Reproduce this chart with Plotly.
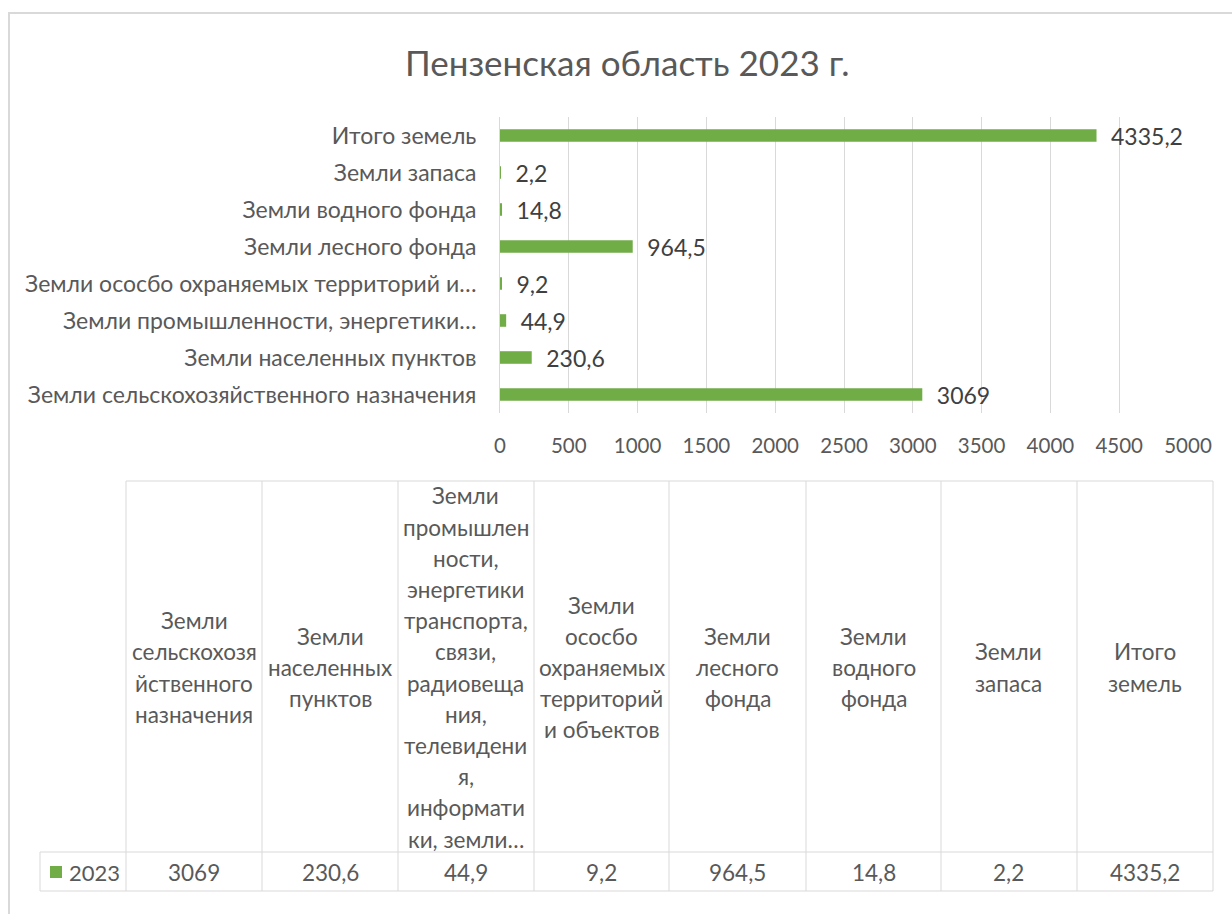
import plotly.graph_objects as go

# ---------------- data ----------------
axis_labels = [
    "Земли сельскохозяйственного назначения",
    "Земли населенных пунктов",
    "Земли промышленности, энергетики…",
    "Земли ососбо охраняемых территорий и…",
    "Земли лесного фонда",
    "Земли водного фонда",
    "Земли запаса",
    "Итого земель",
]
table_headers = [
    "Земли<br>сельскохозя<br>йственного<br>назначения",
    "Земли<br>населенных<br>пунктов",
    "Земли<br>промышлен<br>ности,<br>энергетики<br>транспорта,<br>связи,<br>радиовеща<br>ния,<br>телевидени<br>я,<br>информати<br>ки, земли…",
    "Земли<br>ососбо<br>охраняемых<br>территорий<br>и объектов",
    "Земли<br>лесного<br>фонда",
    "Земли<br>водного<br>фонда",
    "Земли<br>запаса",
    "Итого<br>земель",
]
values_2023 = [3069, 230.6, 44.9, 9.2, 964.5, 14.8, 2.2, 4335.2]
series_name = "2023"
title_text = "Пензенская область 2023 г."
x_range = [0, 5000]
x_step = 500

# ---------------- layout helpers ----------------
W, H = 1232, 914

def px(x):
    return x / W

def py(y):
    return 1 - y / H

FONT = "Lato, 'Open Sans', sans-serif"
TXT = "#595959"
GRID = "#d9d9d9"
GREEN = "#70ad47"

def fmt(v):
    return f"{v:g}".replace(".", ",")

labels = [fmt(v) for v in values_2023]
bar_text = ["\u2002" + s for s in labels]

fig = go.Figure()
fig.add_trace(go.Bar(
    y=axis_labels, x=values_2023, orientation="h",
    marker=dict(color=GREEN, line=dict(width=0)),
    text=bar_text, textposition="outside",
    constraintext="none",
    textfont=dict(family=FONT, size=23, color="#404040"),
    cliponaxis=False, name=series_name, showlegend=False, hoverinfo="skip",
))

shapes = []
annotations = []

# outer chart frame (top + left visible)
shapes.append(dict(type="rect", xref="paper", yref="paper",
                   x0=px(9), y0=py(13), x1=px(1300), y1=py(1000),
                   line=dict(color=GRID, width=2), fillcolor="rgba(0,0,0,0)", layer="below"))

# ---------------- data table ----------------
col_edges = [126, 262, 398, 534, 669, 806, 941, 1077, 1213]
t_top, t_mid, t_bot = 481, 852, 891
row_left = 40
line = dict(color=GRID, width=1)
for xe in col_edges:
    shapes.append(dict(type="line", xref="paper", yref="paper",
                       x0=px(xe), x1=px(xe), y0=py(t_top), y1=py(t_bot), line=line))
shapes.append(dict(type="line", xref="paper", yref="paper",
                   x0=px(row_left), x1=px(row_left), y0=py(t_mid), y1=py(t_bot), line=line))
shapes.append(dict(type="line", xref="paper", yref="paper",
                   x0=px(col_edges[0]), x1=px(col_edges[-1]), y0=py(t_top), y1=py(t_top), line=line))
for yy in (t_mid, t_bot):
    shapes.append(dict(type="line", xref="paper", yref="paper",
                       x0=px(row_left), x1=px(col_edges[-1]), y0=py(yy), y1=py(yy), line=line))

head_center = (t_top + t_mid) / 2 + 1
line_h = 31.2
for i, hdr in enumerate(table_headers):
    cx = (col_edges[i] + col_edges[i + 1]) / 2
    parts = hdr.split("<br>")
    n = len(parts)
    for k, p in enumerate(parts):
        cy = head_center + (k - (n - 1) / 2) * line_h
        annotations.append(dict(xref="paper", yref="paper", x=px(cx), y=py(cy),
                                text=p, showarrow=False, xanchor="center", yanchor="middle",
                                font=dict(family=FONT, size=22.5, color=TXT)))
    annotations.append(dict(xref="paper", yref="paper", x=px(cx), y=py(872),
                            text=labels[i], showarrow=False, xanchor="center", yanchor="middle",
                            font=dict(family=FONT, size=22.5, color=TXT)))

# legend key in row header
shapes.append(dict(type="rect", xref="paper", yref="paper",
                   x0=px(50), x1=px(62), y0=py(866), y1=py(878),
                   fillcolor=GREEN, line=dict(width=0)))
annotations.append(dict(xref="paper", yref="paper", x=px(67), y=py(872),
                        text=series_name, showarrow=False, xanchor="left", yanchor="middle",
                        font=dict(family=FONT, size=22, color=TXT)))

# title
annotations.append(dict(xref="paper", yref="paper", x=px(627), y=py(62),
                        text=title_text, showarrow=False, xanchor="center", yanchor="middle",
                        font=dict(family=FONT, size=35, color=TXT)))

fig.update_layout(
    width=W, height=H,
    margin=dict(l=0, r=0, t=0, b=0, autoexpand=False),
    paper_bgcolor="white", plot_bgcolor="white",
    bargap=0.66,
    shapes=shapes, annotations=annotations,
    xaxis=dict(domain=[px(500), px(1188)], range=x_range, dtick=x_step, tick0=0,
               automargin=False,
               showgrid=True, gridcolor=GRID, gridwidth=1, zeroline=False,
               showline=False, ticks="", ticklabelstandoff=18,
               tickfont=dict(family=FONT, size=20.5, color=TXT), fixedrange=True),
    yaxis=dict(domain=[py(413), py(117)], type="category", automargin=False,
               showline=True, linecolor=GRID, linewidth=1, ticks="",
               ticklabelstandoff=18,
               tickfont=dict(family=FONT, size=23, color=TXT), fixedrange=True),
)

fig.write_html(
    "out.html",
    config={"displayModeBar": False},
    post_script="document.body.style.margin='0';document.body.style.overflow='hidden';",
)
